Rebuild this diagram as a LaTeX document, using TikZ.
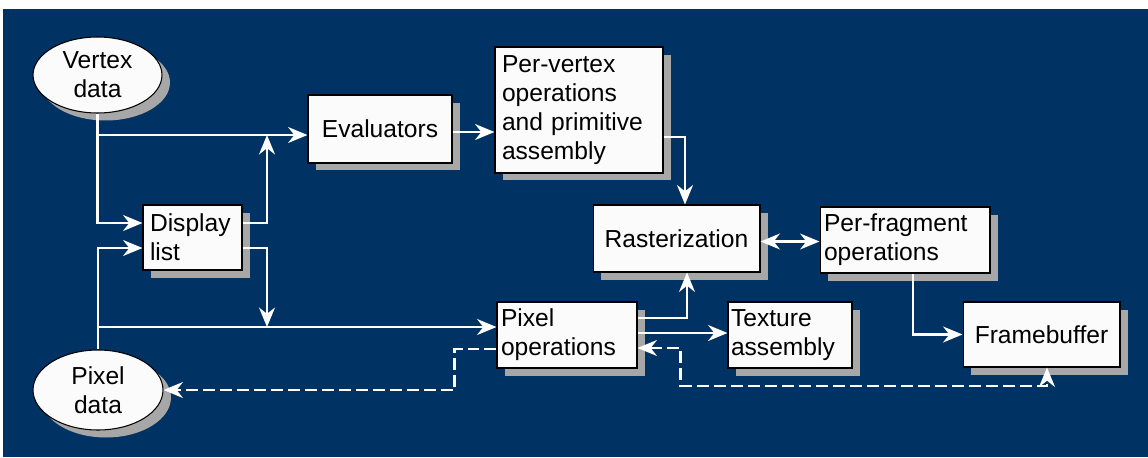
\documentclass[tikz,border=0pt]{standalone}
\usepackage{fontspec}
\setmainfont{Liberation Sans}
\usepackage{tikz}
\usetikzlibrary{arrows.meta,positioning,calc,shapes.geometric,shadows}
\definecolor{Navy}{HTML}{003263}
\definecolor{Shade}{HTML}{A7A7A7}
\definecolor{Paper}{HTML}{FBFBFB}

\begin{document}
\begin{tikzpicture}[x=0.02cm,y=-0.02cm,
    >={Stealth[length=11pt,width=9pt,inset=3.5pt]},
    n/.style={draw=black,line width=0.6pt,fill=Paper,inner ysep=0pt,font=\fontsize{14}{16.5}\selectfont,
      drop shadow={shadow xshift=0.16cm,shadow yshift=-0.15cm,fill=Shade,opacity=1}},
    el/.style={n,ellipse,inner sep=0pt,align=center},
    a/.style={draw=white,line width=1.6pt,->},
    aa/.style={a,<->},
    d/.style={a,dash pattern=on 0.24cm off 0.1cm}]
    \useasboundingbox (0,0) rectangle (1148,457);
    \fill[Navy] (3,9) rectangle (1148,457);
    \node[el,minimum width=2.58cm,minimum height=1.52cm] (vertex) at (97.5,75) {Vertex\\data};
    \node[el,minimum width=2.6cm,minimum height=1.6cm] (pixel) at (98,390) {Pixel\\data};
    \node[n,minimum width=2.88cm,minimum height=1.36cm] (eval) at (380,129) {Evaluators};
    \node[n,text width=3.08cm,inner xsep=0.14cm,minimum height=2.52cm,align=left] (pervertex) at (579,110) {Per-vertex\\operations\\and primitive\\assembly};
    \node[n,text width=1.7cm,inner xsep=0.14cm,minimum height=1.3cm,align=left] (display) at (192.5,237.5) {Display\\list};
    \node[n,minimum width=3.34cm,minimum height=1.34cm] (raster) at (676.5,238.5) {Rasterization};
    \node[n,text width=3.24cm,inner xsep=0.08cm,minimum height=1.32cm,align=left] (perfrag) at (905,240) {Per-fragment\\operations};
    \node[n,text width=2.64cm,inner xsep=0.08cm,minimum height=1.32cm,align=left] (pixelops) at (567,335) {Pixel\\operations};
    \node[n,text width=2.36cm,inner xsep=0.06cm,minimum height=1.32cm,align=left] (texture) at (790,335) {Texture\\assembly};
    \node[n,minimum width=3.14cm,minimum height=1.3cm] (framebuf) at (1041.5,334.5) {Framebuffer};
    \coordinate (evj) at (267,135);
    \coordinate (pxj) at (267,327);
    \draw[a] (vertex.south) |- ([yshift=-0.12cm]eval.west);
    \draw[a] (vertex.south) |- ([yshift=0.29cm]display.west);
    \draw[a] ([yshift=0.29cm]display.east) -| (evj);
    \draw[a] ([yshift=-0.21cm]display.east) -| (pxj);
    \draw[a] (pixel.north) |- ([yshift=-0.21cm]display.west);
    \draw[a] (pixel.north) |- ([yshift=0.16cm]pixelops.west);
    \draw[a] ([yshift=-0.06cm]eval.east) coordinate (e1) -- (e1 -| pervertex.west);
    \draw[a] ([yshift=-0.54cm]pervertex.east) -| ([xshift=0.17cm]raster.north);
    \draw[a] ([yshift=0.34cm]pixelops.east) -| ([xshift=0.21cm]raster.south);
    \draw[aa] ([yshift=-0.06cm]raster.east) coordinate (r1) -- (r1 -| perfrag.west);
    \draw[a] ([xshift=0.16cm]perfrag.south) |- (framebuf.west);
    \draw[a] ([yshift=0.04cm]pixelops.east) coordinate (p1) -- (p1 -| texture.west);
    \draw[d,<->] ([yshift=-0.26cm]pixelops.east) -- ++(0.86cm,0cm) -- ++(0cm,-0.76cm) -| ([xshift=0.11cm]framebuf.south);
    \draw[d] ([yshift=-0.28cm]pixelops.west) -- ++(-0.84cm,0cm) |- (pixel.east);
  \end{tikzpicture}
\end{document}
